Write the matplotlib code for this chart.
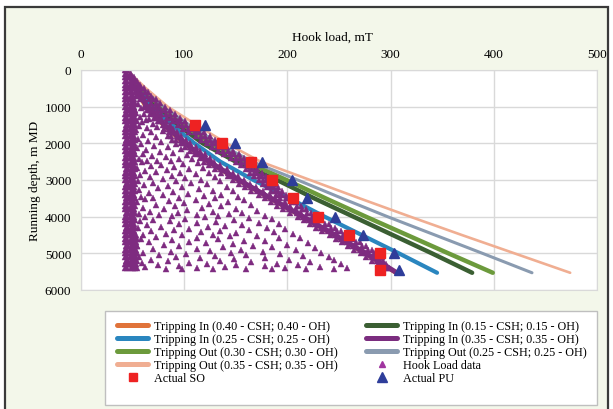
import matplotlib.pyplot as plt
from matplotlib.patches import Rectangle
from matplotlib.lines import Line2D

plt.rcParams['font.family'] = 'Liberation Serif'

# model curves (depth in m MD, hook load in mT)
depth_curve = [0, 500, 1000, 1500, 2000, 2500, 3000, 3500, 4000, 4500, 5000, 5530]
ti_040 = [44, 52, 62, 79, 99, 122, 151, 182, 213, 244, 274, 304]
ti_015 = [44, 57, 73, 94, 118, 150, 190, 226, 264, 302, 340, 379]
ti_025 = [44, 55, 69, 88, 110, 135, 167, 202, 236, 272, 308, 345]
ti_035 = [44, 53, 64, 81, 101, 124, 153, 184, 215, 246, 276, 306]
to_030 = [44, 59, 77, 100, 126, 160, 199, 237, 276, 316, 356, 399]
to_025 = [44, 61, 80, 105, 133, 166, 210, 253, 297, 343, 389, 437]
to_035 = [44, 63, 84, 112, 141, 174, 222, 270, 319, 369, 420, 474]

# actual slack-off / pick-up
so_depth = [1500, 2000, 2500, 3000, 3500, 4000, 4500, 5000, 5450]
so_load = [110, 137, 165, 185, 205, 230, 260, 290, 290]
pu_depth = [1500, 2000, 2500, 3000, 3500, 4000, 4500, 5000, 5450]
pu_load = [120, 149, 175, 204, 219, 246, 273, 303, 308]

# hook load data: dense readings (block weight column and along the trend), one row per depth
hook_depth = [0, 100, 200, 300, 400, 500, 600, 700, 800, 900,
              1000, 1100, 1200, 1300, 1400, 1500, 1600, 1700, 1800, 1900,
              2000, 2100, 2200, 2300, 2400, 2500, 2600, 2700, 2800, 2900,
              3000, 3100, 3200, 3300, 3400, 3500, 3600, 3700, 3800, 3900,
              4000, 4100, 4200, 4300, 4400, 4500, 4600, 4700, 4800, 4900,
              5000, 5100, 5200, 5300, 5400]
hook_loads = [
    [43, 45],
    [43, 45, 47, 48],
    [43, 45, 47, 49, 51],
    [43, 45, 48, 50, 52, 54],
    [43, 45, 47, 49, 52, 55, 57],
    [43, 46, 48, 50, 52, 55, 58, 61],
    [43, 45, 47, 49, 52, 55, 58, 62, 65],
    [43, 45, 48, 50, 53, 56, 60, 64, 68],
    [43, 45, 47, 49, 51, 57, 61, 66, 70, 73],
    [43, 46, 48, 50, 52, 63, 68, 73, 77],
    [43, 45, 47, 49, 51, 61, 64, 67, 70, 73, 76, 81],
    [44, 46, 48, 50, 52, 64, 67, 70, 74, 78, 81, 86],
    [43, 45, 47, 49, 51, 67, 71, 75, 78, 82, 86, 91],
    [43, 45, 48, 50, 52, 71, 74, 78, 83, 87, 91, 96],
    [43, 45, 47, 49, 51, 75, 78, 82, 89, 93, 96, 101],
    [44, 46, 48, 50, 52, 79, 82, 86, 94, 98, 102, 107],
    [43, 45, 47, 49, 51, 80, 85, 89, 99, 104, 108, 113],
    [43, 45, 48, 50, 52, 85, 89, 93, 105, 110, 114, 119],
    [43, 45, 47, 49, 51, 87, 93, 97, 111, 116, 120, 125],
    [44, 46, 48, 50, 52, 92, 97, 102, 116, 121, 125, 130],
    [43, 45, 47, 49, 51, 97, 101, 106, 122, 127, 131, 136],
    [43, 45, 48, 50, 52, 101, 106, 111, 127, 132, 136, 141],
    [43, 45, 47, 49, 51, 106, 110, 115, 133, 138, 142, 147],
    [44, 46, 48, 50, 52, 110, 115, 120, 139, 144, 148, 153],
    [43, 45, 47, 49, 51, 115, 120, 125, 145, 150, 154, 158],
    [43, 45, 48, 50, 52, 119, 124, 129, 150, 155, 159, 163],
    [43, 45, 47, 49, 51, 124, 130, 135, 155, 160, 163, 167],
    [44, 46, 48, 50, 52, 130, 136, 141, 160, 164, 167, 171],
    [43, 45, 47, 49, 51, 136, 142, 147, 164, 168, 171, 175],
    [43, 45, 48, 50, 52, 142, 147, 152, 168, 172, 175, 179],
    [43, 45, 47, 49, 51, 147, 153, 158, 172, 176, 179, 183],
    [44, 46, 48, 50, 52, 153, 159, 164, 176, 180, 183, 187],
    [43, 45, 47, 49, 51, 159, 165, 170, 180, 184, 187, 191],
    [43, 45, 48, 50, 52, 165, 171, 176, 184, 188, 191, 195],
    [43, 45, 47, 49, 51, 172, 178, 183, 189, 192, 195, 199],
    [44, 46, 48, 50, 52, 178, 184, 188, 193, 199, 203],
    [43, 45, 47, 49, 51, 184, 190, 198, 204, 208],
    [43, 45, 48, 50, 52, 190, 196, 203, 209, 213],
    [43, 45, 47, 49, 51, 196, 202, 208, 214, 218],
    [44, 46, 48, 50, 52, 203, 209, 213, 219, 223],
    [43, 45, 47, 49, 51, 210, 215, 218, 224, 228],
    [43, 45, 48, 50, 52, 216, 221, 224, 230, 234],
    [43, 45, 47, 49, 51, 222, 227, 230, 236, 240],
    [44, 46, 48, 50, 52, 228, 233, 236, 242, 246],
    [43, 45, 47, 49, 51, 234, 239, 242, 248, 252],
    [43, 45, 47, 49, 51, 53, 241, 246, 248, 254, 258],
    [43, 45, 48, 50, 52, 54, 247, 252, 254, 260, 264],
    [43, 45, 47, 49, 51, 53, 253, 258, 260, 266, 270],
    [44, 46, 48, 50, 52, 54, 259, 264, 266, 272, 276],
    [43, 45, 47, 49, 51, 53, 265, 270, 272, 278, 282],
    [43, 45, 48, 50, 52, 54, 271, 276, 278, 284, 288],
    [43, 45, 47, 49, 51, 53, 276, 282, 284, 289, 292],
    [44, 46, 48, 50, 52, 54, 282, 287, 289, 293],
    [43, 45, 47, 49, 51, 53, 288, 292, 294, 296],
    [43, 45, 48, 50, 52, 54, 293, 296, 298],
]

# hook load data: scattered readings inside the envelope (load, depth)
hook_scatter = [
    (55, 930), (58, 1040), (53, 1160), (61, 1210), (57, 1290), (66, 1330), (54, 1380), (63, 1370),
    (59, 1430), (70, 1460), (56, 1520), (74, 1550), (64, 1590), (53, 1640), (79, 1660), (68, 1700),
    (60, 1760), (84, 1790), (73, 1830), (55, 1880), (88, 1900), (65, 1940), (78, 1970),
    (58, 2020), (92, 2030), (71, 2060), (84, 2110), (54, 2140), (63, 2180), (97, 2160), (77, 2230),
    (89, 2260), (60, 2290), (103, 2310), (69, 2340), (82, 2380), (56, 2420), (95, 2430), (108, 2440),
    (74, 2470), (64, 2490), (87, 2495),
    (59, 2520), (113, 2540), (99, 2560), (78, 2580), (68, 2610), (90, 2640), (54, 2660), (118, 2680),
    (105, 2700), (83, 2720), (62, 2750), (73, 2790), (96, 2800), (124, 2820), (111, 2840), (57, 2870),
    (88, 2890), (67, 2920), (130, 2930), (101, 2950), (79, 2970), (116, 2990),
    (55, 3020), (92, 3030), (135, 3040), (70, 3070), (107, 3090), (122, 3110), (61, 3140), (84, 3160),
    (141, 3180), (98, 3200), (75, 3230), (114, 3250), (56, 3270), (128, 3290), (147, 3300), (89, 3330),
    (66, 3350), (104, 3370), (136, 3400), (79, 3420), (119, 3440), (58, 3460), (152, 3470), (95, 3480),
    (70, 3495), (130, 3500),
    (62, 3530), (111, 3540), (158, 3550), (85, 3570), (142, 3590), (54, 3610), (100, 3630), (124, 3650),
    (73, 3670), (165, 3680), (91, 3710), (136, 3720), (60, 3750), (117, 3770), (150, 3780), (80, 3800),
    (103, 3830), (171, 3840), (67, 3860), (128, 3870), (94, 3890), (156, 3900), (56, 3920), (143, 3930),
    (112, 3950), (76, 3960), (178, 3970), (88, 3990), (133, 3995), (62, 4000),
    (120, 4020), (163, 4030), (101, 4050), (185, 4060), (70, 4080), (148, 4090), (57, 4110), (86, 4120),
    (131, 4140), (172, 4160), (112, 4170), (95, 4200), (192, 4190), (64, 4220), (156, 4240), (140, 4250),
    (78, 4270), (123, 4280), (180, 4300), (55, 4310), (105, 4330), (198, 4340), (90, 4350), (163, 4370),
    (135, 4390), (68, 4400), (116, 4420), (187, 4430), (150, 4450), (82, 4460), (205, 4470), (60, 4490),
    (128, 4495),
    (98, 4510), (171, 4520), (144, 4540), (73, 4550), (112, 4570), (212, 4580), (192, 4590), (58, 4610),
    (133, 4620), (88, 4640), (158, 4650), (178, 4670), (105, 4690), (66, 4700), (220, 4710), (121, 4730),
    (147, 4740), (200, 4760), (80, 4770), (54, 4790), (167, 4800), (95, 4810), (138, 4830), (185, 4840),
    (227, 4850), (112, 4870), (70, 4890), (155, 4900), (208, 4910), (125, 4930), (87, 4950), (176, 4960),
    (60, 4980), (233, 4990), (145, 4995),
    (102, 5010), (193, 5020), (76, 5040), (160, 5050), (215, 5060), (130, 5070), (56, 5090), (240, 5100),
    (92, 5110), (178, 5120), (115, 5140), (148, 5150), (68, 5170), (202, 5180), (245, 5190), (84, 5200),
    (135, 5220), (222, 5230), (165, 5240), (105, 5250), (59, 5270), (190, 5280), (252, 5290), (122, 5300),
    (75, 5310), (150, 5320), (210, 5330), (95, 5340), (178, 5350), (232, 5360), (62, 5370), (140, 5380),
    (258, 5390), (112, 5400), (198, 5410), (82, 5420), (160, 5425), (218, 5430), (128, 5430), (245, 5420),
    (98, 5430), (185, 5430),
]

hx = [l for row in hook_loads for l in row] + [p[0] for p in hook_scatter]
hy = [d for d, row in zip(hook_depth, hook_loads) for l in row] + [p[1] for p in hook_scatter]

fig = plt.figure(figsize=(6.13, 4.10), dpi=100, facecolor='white')
fig.add_artist(Rectangle((5 / 613, -0.05), 603 / 613, 1 - 8 / 410 + 0.05,
                         transform=fig.transFigure, facecolor='#f3f7ea',
                         edgecolor='#3a3a3a', lw=1.6, zorder=0))

ax = fig.add_axes([81 / 613, 1 - 291 / 410, 516 / 613, 220 / 410])
ax.set_facecolor('white')

c_orange, c_dkgreen, c_blue, c_purple = '#e0733a', '#3b5f33', '#2a86bf', '#7b2d7f'
c_green, c_gray, c_peach = '#6c9a3c', '#8a9bb0', '#f0ae92'

kw = dict(solid_capstyle='round')
ax.plot(ti_040, depth_curve, color=c_orange, lw=2.2, **kw)
ax.plot(ti_015, depth_curve, color=c_dkgreen, lw=3.2, **kw)
ax.plot(ti_025, depth_curve, color=c_blue, lw=3.0, **kw)
ax.plot(ti_035, depth_curve, color=c_purple, lw=3.6, **kw)
ax.plot(to_030, depth_curve, color=c_green, lw=3.2, **kw)
ax.plot(to_025, depth_curve, color=c_gray, lw=2.2, **kw)
ax.plot(to_035, depth_curve, color=c_peach, lw=1.9, **kw)
ax.plot(hx, hy, ls='none', marker='^', ms=3.7, color='#7e2b80', mec='#7e2b80', mew=0.3)
ax.plot(so_load, so_depth, ls='none', marker='s', ms=6.5, color='#ee2222')
ax.plot(pu_load, pu_depth, ls='none', marker='^', ms=7.5, color='#2e3d9a')

ax.set_xlim(0, 500)
ax.set_ylim(6000, 0)
ax.set_xticks([0, 100, 200, 300, 400, 500])
ax.set_yticks([0, 1000, 2000, 3000, 4000, 5000, 6000])
ax.xaxis.tick_top()
ax.tick_params(length=0, labelsize=9.5, pad=7)
ax.grid(color='#d9d9d9', lw=1)
ax.set_axisbelow(True)
for s in ax.spines.values():
    s.set_color('#d9d9d9')

fig.text(332 / 613, 1 - 38 / 410, 'Hook load, mT', ha='center', va='center', fontsize=9.5)
fig.text(35 / 613, 1 - 181 / 410, 'Running depth, m MD', ha='center', va='center',
         rotation=90, fontsize=9.5)

# legend
fig.add_artist(Rectangle((105 / 613, 1 - 406 / 410), 492 / 613, 94 / 410,
                         transform=fig.transFigure, facecolor='white',
                         edgecolor='#bfbfbf', lw=1, zorder=1))
h = lambda c: Line2D([], [], color=c, lw=3.6, solid_capstyle='round')
col1 = [h(c_orange), h(c_blue), h(c_green), h(c_peach),
        Line2D([], [], ls='none', marker='s', ms=6, color='#ee2222')]
lab1 = ['Tripping In (0.40 - CSH; 0.40 - OH)', 'Tripping In (0.25 - CSH; 0.25 - OH)',
        'Tripping Out (0.30 - CSH; 0.30 - OH)', 'Tripping Out (0.35 - CSH; 0.35 - OH)',
        'Actual SO']
col2 = [h(c_dkgreen), h(c_purple), h(c_gray),
        Line2D([], [], ls='none', marker='^', ms=4, color='#a0359f'),
        Line2D([], [], ls='none', marker='^', ms=7.5, color='#2e3d9a')]
lab2 = ['Tripping In (0.15 - CSH; 0.15 - OH)', 'Tripping In (0.35 - CSH; 0.35 - OH)',
        'Tripping Out (0.25 - CSH; 0.25 - OH)', 'Hook Load data', 'Actual PU']
for hs, ls, x0 in [(col1, lab1, 117), (col2, lab2, 366)]:
    lg = fig.legend(hs, ls, loc='upper left', bbox_to_anchor=(x0 / 613, 1 - 321 / 410),
                    frameon=False, fontsize=8.7, handlelength=2.6, handletextpad=0.5,
                    labelspacing=0.08, borderpad=0, borderaxespad=0)
    lg.set_zorder(2)

fig.savefig('out.png', dpi=100)
